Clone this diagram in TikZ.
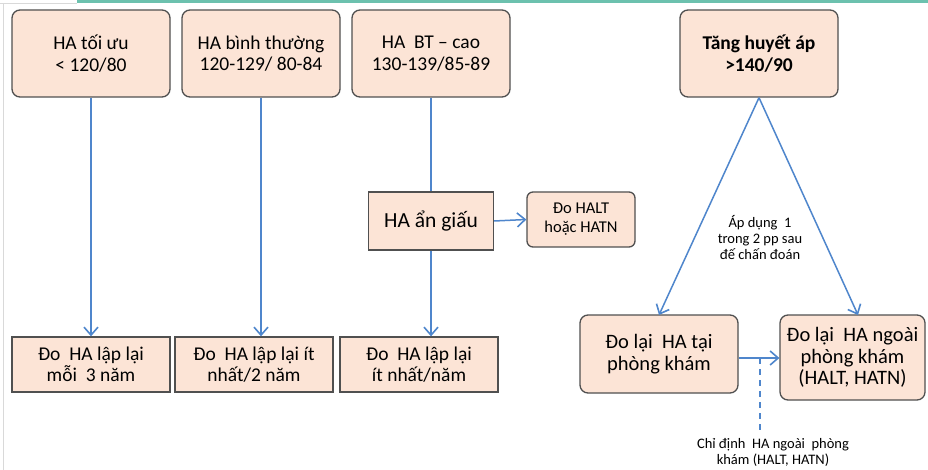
\documentclass[tikz,border=0pt]{standalone}
\usepackage{fontspec}
\setmainfont{Carlito}
\usetikzlibrary{arrows.meta}
\definecolor{boxfill}{HTML}{FCE4D6}
\definecolor{boxline}{HTML}{505050}
\definecolor{arrowblue}{HTML}{4F86CC}
\definecolor{teal}{HTML}{6CC1AE}
\definecolor{edge}{HTML}{D9D9D9}
\tikzset{
  box/.style={draw=boxline, line width=1.3pt, fill=boxfill, align=center, inner sep=0pt},
  rbox/.style={box, rounded corners=8pt},
  conn/.style={draw=arrowblue, line width=1.5pt},
  arr/.style={conn, -{Straight Barb[length=8pt,width=14pt,line width=1.6pt]}},
  big/.style={font=\fontsize{19.5}{21.5}\selectfont},
  mid/.style={font=\fontsize{16.5}{19}\selectfont},
  small/.style={font=\fontsize{14.5}{16}\selectfont},
}
\begin{document}
\begin{tikzpicture}[x=1pt,y=-1pt]
\useasboundingbox (0,0) rectangle (928,470);
\fill[white] (0,0) rectangle (928,470);
\fill[teal] (77,0) rectangle (928,3);
\draw[edge, line width=1pt] (0,3.5) -- (77,3.5);
\draw[edge, line width=1pt] (3,3.5) -- (3,470);

% top row
\node[rbox, big, minimum width=158pt, minimum height=87pt] (b1) at (91,53.5) {HA tối ưu\\< 120/80};
\node[rbox, big, minimum width=158pt, minimum height=87pt] (b2) at (261,53.5) {HA bình thường\\120-129/ 80-84};
\node[rbox, big, minimum width=158pt, minimum height=87pt] (b3) at (431,53.5) {HA\ \ BT – cao\\130-139/85-89};
\node[rbox, minimum width=158pt, minimum height=87pt, align=center, font=\fontsize{19.5}{22}\selectfont\bfseries] (b4) at (759,53.5) {Tăng huyết áp\\>140/90};

% hidden
\node[box, minimum width=125pt, minimum height=58pt, font=\fontsize{21.5}{24}\selectfont] (hid) at (431,221) {HA ẩn giấu};
\node[rbox, mid, minimum width=108pt, minimum height=55pt, rounded corners=6pt] (halt) at (581,219.5) {Đo HALT\\hoặc HATN};

% bottom row
\node[box, big, minimum width=158pt, minimum height=55pt] (c1) at (91,364.5) {Đo\ \ HA lập lại\\mỗi\ \ 3 năm};
\node[box, big, minimum width=158pt, minimum height=55pt] (c2) at (254,364.5) {Đo\ \ HA lập lại ít\\nhất/2 năm};
\node[box, big, minimum width=158pt, minimum height=55pt] (c3) at (419,364.5) {Đo\ \ HA lập lại\\ít nhất/năm};

% right
\node[rbox, font=\fontsize{20.5}{21.5}\selectfont, minimum width=158pt, minimum height=78pt] (L) at (659,354) {Đo lại\ \ HA tại\\phòng khám};
\node[rbox, font=\fontsize{20.5}{21.5}\selectfont, minimum width=145pt, minimum height=85pt] (R) at (852.5,357.5) {Đo lại\ \ HA ngoài\\phòng khám\\(HALT, HATN)};

\node[small, align=center] (lbl) at (760,237) {Áp dụng\ \ 1\\trong 2 pp sau\\đế chấn đoán};
\node[align=center, font=\fontsize{14.5}{16}\selectfont] (chi) at (773,452) {Chỉ định\ \ HA ngoài\ \ phòng\\khám (HALT, HATN)};

% connectors
\draw[arr] (b1.south) -- (c1.north);
\draw[arr] (b2.south) -- (b2.south |- c2.north);
\draw[conn] (b3.south) -- (b3.south |- hid.north);
\draw[arr] (hid.south) -- (hid.south |- c3.north);
\draw[arr] (hid.east) -- (halt.west);

\coordinate (lt) at (659,315);
\coordinate (rt) at (858,315);
\draw[arr] (b4.south) -- (lt);
\draw[arr] (b4.south) -- (rt);

\coordinate (hs) at (738,358);
\coordinate (he) at (780,358);
\coordinate (dj) at (760,358);
\coordinate (dd) at (760,433);
\draw[arr] (L.east |- hs) -- (R.west |- he);
\draw[conn, dashed, dash pattern=on 6pt off 5pt] (dj) -- (dd);
\end{tikzpicture}
\end{document}
